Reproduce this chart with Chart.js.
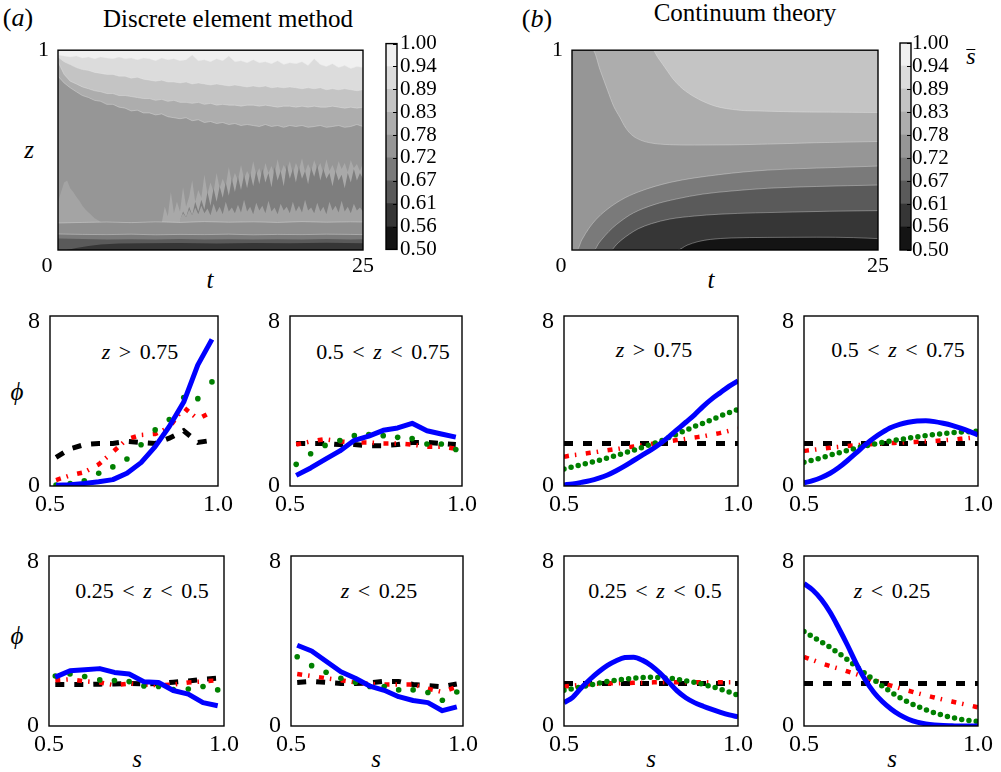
<!DOCTYPE html>
<html lang="en">
<head>
<meta charset="UTF-8" />
<title>Size segregation: DEM vs continuum theory</title>
<style>
  body { margin: 0; background: #fff; }
  #fig { position: relative; width: 1001px; height: 772px; overflow: hidden;
         font-family: "Liberation Serif", "Times New Roman", serif; color: #000; }
  #fig canvas { position: absolute; }
  .lbl { position: absolute; transform: translate(-50%, -50%); white-space: nowrap;
         line-height: 1; font-size: 25px; }
  .sm { font-size: 22px; word-spacing: 3px; }
  .bar { display: inline-block; border-top: 1.6px solid #000; line-height: 12px; height: 14px; }
</style>
</head>
<body>
<div id="fig">
  <div class="lbl" style="left:18px;top:18px;font-size:26px">(<i>a</i>)</div>
  <div class="lbl" style="left:228px;top:18px">Discrete element method</div>
  <div class="lbl" style="left:537px;top:19px;font-size:26px">(<i>b</i>)</div>
  <div class="lbl" style="left:745px;top:12px">Continuum theory</div>
  <div class="lbl" style="left:29px;top:149px"><i>z</i></div>
  <div class="lbl" style="left:210px;top:279px"><i>t</i></div>
  <div class="lbl" style="left:711px;top:279px"><i>t</i></div>
  <div class="lbl" style="left:971px;top:56px;font-size:24px"><i class="bar">s</i></div>

  <div class="lbl" style="left:17px;top:391px"><i>ϕ</i></div>
  <div class="lbl" style="left:17px;top:635px"><i>ϕ</i></div>
  <div class="lbl" style="left:137px;top:758px"><i>s</i></div>
  <div class="lbl" style="left:376px;top:758px"><i>s</i></div>
  <div class="lbl" style="left:651px;top:758px"><i>s</i></div>
  <div class="lbl" style="left:892px;top:758px"><i>s</i></div>

  <div class="lbl sm" style="left:140px;top:352px"><i>z</i> &gt; 0.75</div>
  <div class="lbl sm" style="left:383px;top:352px">0.5 &lt; <i>z</i> &lt; 0.75</div>
  <div class="lbl sm" style="left:654px;top:350px"><i>z</i> &gt; 0.75</div>
  <div class="lbl sm" style="left:898px;top:350px">0.5 &lt; <i>z</i> &lt; 0.75</div>
  <div class="lbl sm" style="left:142px;top:591px">0.25 &lt; <i>z</i> &lt; 0.5</div>
  <div class="lbl sm" style="left:379px;top:591px"><i>z</i> &lt; 0.25</div>
  <div class="lbl sm" style="left:655px;top:591px">0.25 &lt; <i>z</i> &lt; 0.5</div>
  <div class="lbl sm" style="left:892px;top:591px"><i>z</i> &lt; 0.25</div>
</div>

<script src="https://cdn.jsdelivr.net/npm/chart.js"></script>
<script>
// ---- colour levels of s-bar ----
const cbLevels = [0.5, 0.5556, 0.6111, 0.6667, 0.7222, 0.7778, 0.8333, 0.8889, 0.9444, 1.0];
const cbLabels = ['0.50', '0.56', '0.61', '0.67', '0.72', '0.78', '0.83', '0.89', '0.94', '1.00'];
const grays = ['#141414', '#363636', '#5a5a5a', '#7a7a7a', '#969696', '#adadad', '#c4c4c4', '#dcdcdc', '#f0f0f0'];

// ---- DEM contour boundaries, z(t) ----
const tGrid = [0,0.5,1,1.5,2,2.5,3,3.5,4,4.5,5,5.5,6,6.5,7,7.5,8,8.5,9,9.5,10,10.5,11,11.5,12,12.5,
  13,13.5,14,14.5,15,15.5,16,16.5,17,17.5,18,18.5,19,19.5,20,20.5,21,21.5,22,22.5,23,23.5,24,24.5,25];
const demA = [.976,.971,.966,.971,.961,.966,.957,.966,.961,.957,.966,.957,.961,.952,.961,.957,.947,.961,.952,.957,
  .947,.952,.976,.947,.952,.942,.957,.947,.971,.942,.947,.937,.952,.937,.942,.932,.947,.928,.937,.932,
  .942,.923,.957,.928,.918,.932,.913,.923,.908,.918,.913];
const demB = [.966,.942,.928,.913,.903,.899,.889,.884,.879,.879,.870,.870,.860,.865,.855,.850,.845,.850,.841,.841,
  .836,.841,.831,.836,.831,.826,.831,.826,.821,.826,.821,.816,.821,.816,.821,.812,.816,.812,.816,.812,
  .807,.812,.807,.812,.802,.807,.802,.807,.802,.797,.802];
const demC = [.942,.879,.845,.831,.816,.807,.797,.792,.783,.783,.773,.773,.768,.763,.758,.758,.749,.754,.744,.749,
  .739,.739,.734,.739,.729,.734,.725,.729,.725,.725,.720,.725,.725,.720,.725,.720,.715,.720,.720,.715,
  .720,.715,.720,.715,.715,.720,.715,.710,.715,.710,.715];
const demD = [.870,.836,.812,.792,.773,.763,.749,.744,.729,.729,.715,.710,.696,.700,.686,.686,.676,.681,.667,.662,
  .657,.662,.647,.652,.638,.643,.633,.638,.628,.633,.623,.628,.623,.618,.628,.618,.623,.614,.623,.618,
  .623,.614,.618,.623,.614,.618,.623,.614,.618,.628,.618];
const tPatch = [0,0.25,0.5,0.75,1,1.25,1.5,1.75,2,2.25,2.5,2.75,3,3.25,3.5,3.7];
const zPatch = [.242,.290,.338,.348,.309,.290,.266,.246,.222,.203,.188,.174,.159,.150,.140,.130];
const tLight = [8.5,8.75,9,9.25,9.5,9.75,10,10.25,10.5,10.75,11,11.25,11.5,11.75,12,12.25,12.5,12.75,13,13.25,
  13.5,13.75,14,14.25,14.5,14.75,15,15.25,15.5,15.75,16,16.25,16.5,16.75,17,17.25,17.5,17.75,18,18.25,
  18.5,18.75,19,19.25,19.5,19.75,20,20.25,20.5,20.75,21,21.25,21.5,21.75,22,22.25,22.5,22.75,23,23.25,
  23.5,23.75,24,24.25,24.5,24.75,25];
const zLight = [.135,.217,.169,.290,.184,.242,.193,.314,.217,.266,
  .348,.242,.300,.261,.377,.280,.338,.290,.386,.309,
  .357,.319,.415,.338,.386,.348,.425,.357,.396,.367,
  .444,.377,.411,.362,.435,.386,.420,.377,.454,.386,
  .425,.396,.444,.382,.435,.401,.459,.391,.430,.396,
  .449,.406,.435,.386,.454,.396,.425,.386,.444,.406,
  .435,.391,.449,.411,.430,.396,.435];
const tDark = [10,10.25,10.5,10.75,11,11.25,11.5,11.75,12,12.25,12.5,12.75,13,13.25,13.5,13.75,14,14.25,14.5,14.75,
  15,15.25,15.5,15.75,16,16.25,16.5,16.75,17,17.25,17.5,17.75,18,18.25,18.5,18.75,19,19.25,19.5,19.75,
  20,20.25,20.5,20.75,21,21.25,21.5,21.75,22,22.25,22.5,22.75,23,23.25,23.5,23.75,24,24.25,24.5,24.75,25];
const zDark = [.145,.193,.164,.217,.174,.242,.193,.251,.203,.290,
  .222,.309,.242,.319,.261,.338,.271,.357,.290,.367,
  .300,.377,.309,.386,.319,.396,.329,.406,.338,.386,
  .314,.415,.348,.396,.319,.425,.357,.406,.338,.415,
  .357,.396,.329,.411,.367,.425,.348,.406,.357,.386,
  .319,.396,.348,.377,.309,.386,.338,.406,.348,.386,
  .357];
const zLow = [.155,.184,.164,.203,.174,.213,.179,.222,.184,.208,
  .174,.232,.188,.217,.179,.242,.193,.213,.184,.227,
  .188,.251,.193,.217,.179,.237,.198,.222,.184,.246,
  .193,.213,.179,.232,.198,.217,.184,.242,.193,.222,
  .188,.251,.198,.213,.184,.237,.193,.217,.179,.242,
  .198,.222,.188,.246,.193,.217,.184,.232,.198,.213,
  .193];
const tBase = [0,2,4,6,8,10,12,14,16,18,20,22,24,25];
const demE1 = [.135,.138,.14,.137,.141,.138,.142,.139,.141,.138,.142,.139,.141,.14];
const demE2 = [.08,.078,.077,.079,.076,.078,.077,.079,.076,.078,.077,.079,.078,.077];
const demE3 = [.058,.055,.053,.054,.052,.055,.053,.054,.052,.054,.053,.055,.053,.054];
const tE4 = [0,0.7,1.5,2.5,3.5,5,7,10,13,16,19,22,25];
const demE4 = [0,0,.01,.02,.028,.032,.034,.035,.033,.035,.034,.036,.034];

// ---- continuum contour boundaries, z(t) ----
const tB2 = [0,6.6,7.0,7.4,7.8,8.2,8.8,9.3,10.3,11.7,13.6,15.7,18.4,21.1,25];
const zB2 = [1,1,0.965,0.93,0.895,0.86,0.82,0.794,0.756,0.72,0.70,0.695,0.691,0.69,0.688];
const tB1 = [0,1.7,2.3,2.9,3.4,3.9,4.4,4.9,5.6,6.5,8,10,13,16,20,25];
const zB1 = [1,1,0.9,0.8,0.72,0.665,0.61,0.575,0.55,0.535,0.527,0.525,0.526,0.53,0.537,0.543];
const tB3 = [0,0.4,0.8,1.4,2,2.7,4,5.4,8,12,16,20,25];
const zB3 = [0,0,0.05,0.11,0.155,0.195,0.25,0.29,0.338,0.377,0.4,0.41,0.42];
const tB4 = [0,1.8,2.2,2.7,3.3,4,5,6.7,8.5,10.7,13,16,20,25];
const zB4 = [0,0,0.035,0.072,0.11,0.145,0.185,0.227,0.255,0.28,0.295,0.309,0.318,0.325];
const tB5 = [0,3.2,3.6,4,4.7,5.4,6.5,8,10,12,15,18,21,25];
const zB5 = [0,0,0.025,0.048,0.08,0.106,0.132,0.155,0.17,0.179,0.186,0.19,0.194,0.197];
const tB6 = [0,8.6,9.4,10.3,11.3,13,16,20,23,25];
const zB6 = [0,0,0.024,0.042,0.053,0.06,0.063,0.064,0.062,0.057];

// ---- phi(s) profiles: [blue, green, red, black] ----
const sDem = [0.518,0.560,0.602,0.645,0.687,0.729,0.771,0.813,0.855,0.898,0.940,0.982];
const dem1 = [
  [0.03,0.06,0.12,0.2,0.3,0.6,1.1,1.85,2.8,3.95,5.7,6.9],
  [0.05,0.12,0.25,0.6,0.9,1.27,1.94,2.64,3.13,4.16,4.11,4.9],
  [0.28,0.5,0.65,1.02,1.6,2.2,2.4,2.45,2.76,3.7,3.15,3.5],
  [1.35,1.75,1.95,2.0,2.0,2.1,2.05,2.0,2.25,2.6,2.05,2.15]];
const dem2 = [
  [0.5,0.85,1.25,1.65,2.15,2.35,2.62,2.73,2.95,2.6,2.45,2.3],
  [1.02,1.52,1.91,2.14,2.37,2.42,2.37,2.29,2.23,1.98,1.98,1.72],
  [1.95,2.1,2.2,2.1,2.05,2.05,2.0,2.0,1.95,1.85,1.85,1.75],
  [2.0,2.0,2.0,1.95,1.95,1.9,1.9,1.95,2.05,2.05,2.0,1.95]];
const dem3 = [
  [2.3,2.6,2.65,2.7,2.52,2.45,2.08,2.05,1.67,1.5,1.1,0.95],
  [2.35,2.45,2.33,2.17,2.14,2.09,1.88,1.86,1.72,1.74,1.86,1.7],
  [2.15,2.2,2.1,2.05,1.92,2.0,1.95,1.92,1.95,2.05,2.1,2.15],
  [1.95,1.95,1.95,1.97,1.98,2.0,1.98,2.0,2.06,2.12,2.2,2.25]];
const dem4 = [
  [3.8,3.53,3.05,2.55,2.25,1.88,1.68,1.38,1.2,1.1,0.72,0.9],
  [3.26,2.84,2.53,2.25,2.06,1.86,1.86,1.7,1.7,1.58,1.21,1.6],
  [2.45,2.35,2.25,2.15,2.05,1.98,1.95,1.95,1.95,1.75,1.6,1.85],
  [2.05,2.1,2.05,2.0,2.0,2.03,2.1,2.1,1.95,1.9,1.85,1.98]];

const sCont = [0.5,0.525,0.55,0.575,0.6,0.625,0.65,0.675,0.7,0.725,0.75,0.775,0.8,0.825,0.85,0.875,0.9,0.925,0.95,0.975,1.0];
const uniform = [2,2,2,2,2,2,2,2,2,2,2,2,2,2,2,2,2,2,2,2,2];
const cont1 = [
  [0.05,0.1,0.17,0.25,0.37,0.52,0.72,0.95,1.2,1.45,1.7,1.98,2.3,2.65,3.0,3.35,3.75,4.1,4.4,4.7,4.95],
  [0.8,0.9,1.0,1.1,1.2,1.32,1.44,1.56,1.68,1.82,1.96,2.1,2.27,2.45,2.62,2.8,2.95,3.12,3.3,3.45,3.6],
  [1.38,1.45,1.5,1.56,1.62,1.68,1.74,1.8,1.86,1.92,1.98,2.04,2.1,2.16,2.22,2.28,2.34,2.42,2.5,2.6,2.7],
  uniform];
const cont2 = [
  [0.15,0.25,0.4,0.6,0.87,1.2,1.56,1.92,2.25,2.52,2.75,2.9,3.0,3.06,3.07,3.03,2.95,2.85,2.72,2.57,2.4],
  [1.12,1.22,1.33,1.45,1.56,1.67,1.78,1.88,1.97,2.05,2.12,2.19,2.25,2.31,2.37,2.42,2.47,2.51,2.54,2.56,2.58],
  [1.65,1.7,1.75,1.8,1.84,1.88,1.92,1.95,1.98,2.0,2.02,2.04,2.06,2.08,2.1,2.12,2.15,2.18,2.22,2.26,2.3],
  uniform];
const cont3 = [
  [1.1,1.35,1.8,2.2,2.55,2.85,3.07,3.22,3.24,3.1,2.85,2.5,2.08,1.65,1.33,1.1,0.93,0.78,0.64,0.52,0.43],
  [1.68,1.76,1.84,1.93,2.02,2.1,2.16,2.21,2.25,2.28,2.29,2.28,2.25,2.2,2.13,2.05,1.96,1.85,1.73,1.6,1.45],
  [1.85,1.9,1.94,1.97,1.99,2.0,2.01,2.02,2.03,2.04,2.05,2.06,2.06,2.06,2.06,2.06,2.06,2.06,2.06,2.06,2.06],
  uniform];
const cont4 = [
  [6.7,6.4,5.95,5.35,4.6,3.8,2.95,2.2,1.6,1.15,0.8,0.52,0.32,0.18,0.1,0.05,0.02,0.01,0,0,0],
  [4.45,4.2,3.95,3.7,3.42,3.12,2.8,2.48,2.18,1.88,1.6,1.34,1.12,0.93,0.76,0.62,0.5,0.4,0.32,0.26,0.21],
  [3.25,3.1,2.95,2.82,2.7,2.57,2.44,2.3,2.16,2.03,1.9,1.78,1.66,1.55,1.44,1.34,1.24,1.15,1.06,0.97,0.88],
  uniform];

const sTicks = [0.5, 1.0], sTickLabels = ['0.5', '1.0'];
// the top label sits a little below its tick in the figure, so it gets an empty first line
const phiTicks = [0, 8], phiTickLabels = ['0', ['', '8']];
// the shared corner "0" sits left of the axis corner
const tTicks = [0, 25], tTickLabels = ['0\u2002\u2002', '25'];
const zTicks = [1], zTickLabels = ['1'];

// ---------------------------------------------------------------
Chart.defaults.font.family = "'Liberation Serif', 'Times New Roman', serif";
Chart.defaults.color = '#000';

const frame = {
  id: 'frame',
  afterDatasetsDraw(chart) {
    const a = chart.chartArea, c = chart.ctx;
    c.save();
    c.strokeStyle = '#000';
    c.lineWidth = 1.4;
    c.strokeRect(a.left, a.top, a.right - a.left, a.bottom - a.top);
    c.restore();
  }
};

const innerTicks = {
  id: 'innerTicks',
  afterDatasetsDraw(chart) {
    const y = chart.scales.y, a = chart.chartArea, c = chart.ctx;
    c.save();
    c.strokeStyle = '#000';
    c.lineWidth = 1;
    y.ticks.forEach(t => {
      const py = Math.round(y.getPixelForValue(t.value)) + 0.5;
      c.beginPath(); c.moveTo(a.right - 4, py); c.lineTo(a.right, py); c.stroke();
    });
    c.restore();
  }
};

function addCanvas(area, pad) {
  const cv = document.createElement('canvas');
  const w = area[2] - area[0] + pad.l + pad.r, h = area[3] - area[1] + pad.t + pad.b;
  cv.width = w; cv.height = h;
  cv.style.left = (area[0] - pad.l) + 'px';
  cv.style.top = (area[1] - pad.t) + 'px';
  cv.style.width = w + 'px';
  cv.style.height = h + 'px';
  document.getElementById('fig').appendChild(cv);
  return cv;
}

function axis(min, max, vals, labels, size, font, padding, extra) {
  return Object.assign({
    type: 'linear', min, max,
    grid: { display: false, drawTicks: false },
    border: { display: false },
    afterBuildTicks: s => { s.ticks = vals.map(v => ({ value: v })); },
    ticks: { autoSkip: false, maxRotation: 0, font, padding,
             callback: (v, i) => labels[i] },
    afterFit: s => { if (s.isHorizontal()) s.height = size; else s.width = size; }
  }, extra || {});
}

const baseOpts = { responsive: false, animation: false, devicePixelRatio: 1, events: [] };

// ---- contour map: filled bands painted from the top level downwards ----
function contour(area, layers, smooth, showZTick) {
  const pad = { l: 40, t: 15, r: 10, b: 32 };
  const cv = addCanvas(area, pad);
  // layers are given bottom-first; Chart.js paints dataset 0 last
  const datasets = layers.slice().reverse().map(L => ({
    data: L.t.map((x, i) => ({ x, y: L.z[i] })),
    fill: 'start',
    backgroundColor: L.color,
    borderColor: L.edge ? 'rgba(235,235,235,0.45)' : 'rgba(0,0,0,0)',
    borderWidth: L.edge ? 0.8 : 0,
    pointRadius: 0,
    cubicInterpolationMode: smooth ? 'monotone' : 'default',
    tension: 0
  }));
  new Chart(cv, {
    type: 'line',
    data: { datasets },
    options: Object.assign({}, baseOpts, {
      layout: { padding: { left: 0, top: pad.t, right: pad.r, bottom: 0 } },
      plugins: { legend: { display: false }, tooltip: { enabled: false } },
      scales: {
        x: axis(0, 25, tTicks, tTickLabels, pad.b, { size: 22 }, 3),
        y: axis(0, 1, showZTick ? zTicks : [], zTickLabels, pad.l, { size: 22 }, 9)
      }
    }),
    plugins: [frame]
  });
}

function colorbar(area, tickPad) {
  const pad = { l: 2, t: 15, r: 55, b: 15 };
  const cv = addCanvas(area, pad);
  const datasets = grays.map((g, i) => ({
    data: [[cbLevels[i], cbLevels[i + 1]]],
    backgroundColor: g, borderWidth: 0, grouped: false,
    barPercentage: 1, categoryPercentage: 1
  }));
  new Chart(cv, {
    type: 'bar',
    data: { labels: ['s'], datasets },
    options: Object.assign({}, baseOpts, {
      layout: { padding: { left: pad.l, top: pad.t, right: 0, bottom: pad.b } },
      plugins: { legend: { display: false }, tooltip: { enabled: false } },
      scales: {
        x: { display: false },
        y: axis(0.5, 1, cbLevels, cbLabels, pad.r, { size: 21 }, tickPad, { position: 'right' })
      }
    }),
    plugins: [frame, innerTicks]
  });
}

// ---- phi(s) panel ----
function panel(area, xs, ys, dem) {
  const pad = { l: 45, t: 20, r: 25, b: 32 };
  const cv = addCanvas(area, pad);
  const pts = arr => xs.map((x, i) => ({ x, y: arr[i] }));
  const curve = dem ? 'default' : 'monotone';
  const datasets = [
    { data: pts(ys[0]), borderColor: '#0000ff', borderWidth: 5, pointRadius: 0,
      cubicInterpolationMode: curve, borderJoinStyle: 'round' },
    dem
      ? { data: pts(ys[1]), showLine: false, pointRadius: 2.8, pointBackgroundColor: '#008000',
          pointBorderWidth: 0 }
      : { data: pts(ys[1]), borderColor: '#008000', borderWidth: 5.5, borderDash: [0, 7.3],
          borderCapStyle: 'round', pointRadius: 0, cubicInterpolationMode: curve },
    { data: pts(ys[2]), borderColor: '#ff0000', borderWidth: 4.5, borderDash: [5, 6, 1.5, 9.5],
      pointRadius: 0, cubicInterpolationMode: curve },
    { data: pts(ys[3]), borderColor: '#000000', borderWidth: 5, borderDash: [9, 10], pointRadius: 0 }
  ];
  new Chart(cv, {
    type: 'line',
    data: { datasets },
    options: Object.assign({}, baseOpts, {
      layout: { padding: { left: 0, top: pad.t, right: pad.r, bottom: 0 } },
      plugins: { legend: { display: false }, tooltip: { enabled: false } },
      scales: {
        x: axis(0.5, 1, sTicks, sTickLabels, pad.b, { size: 24 }, 4),
        y: axis(0, 8, phiTicks, phiTickLabels, pad.l, { size: 24, lineHeight: 0.5 }, 10)
      }
    }),
    plugins: [frame]
  });
}

// ---------------------------------------------------------------
contour([58, 43, 367, 250], [
  { t: [0, 25], z: [1, 1], color: grays[8] },
  { t: tGrid, z: demA, color: grays[7], edge: true },
  { t: tGrid, z: demB, color: grays[6], edge: true },
  { t: tGrid, z: demC, color: grays[5], edge: true },
  { t: tGrid, z: demD, color: grays[4], edge: true },
  { t: tPatch, z: zPatch, color: '#a4a4a4' },
  { t: tLight, z: zLight, color: '#a9a9a9' },
  { t: tDark, z: zDark, color: '#7e7e7e' },
  { t: tDark, z: zLow, color: '#a2a2a2' },
  { t: tBase, z: demE1, color: '#8f8f8f', edge: true },
  { t: tBase, z: demE2, color: grays[3], edge: true },
  { t: tBase, z: demE3, color: grays[2] },
  { t: tE4, z: demE4, color: grays[1] }
], false, true);
colorbar([386, 43, 397, 250], 3);

contour([572, 43, 882, 250], [
  { t: [0, 25], z: [1, 1], color: grays[6] },
  { t: tB2, z: zB2, color: grays[5], edge: true },
  { t: tB1, z: zB1, color: grays[4], edge: true },
  { t: tB3, z: zB3, color: grays[3], edge: true },
  { t: tB4, z: zB4, color: grays[2], edge: true },
  { t: tB5, z: zB5, color: grays[1], edge: true },
  { t: tB6, z: zB6, color: grays[0], edge: true }
], true, true);
colorbar([900, 43, 911, 250], 1);

panel([50, 314, 218, 486], sDem, dem1, true);
panel([290, 314, 462, 486], sDem, dem2, true);
panel([564, 314, 738, 486], sCont, cont1, false);
panel([804, 314, 978, 486], sCont, cont2, false);
panel([49, 554, 224, 726], sDem, dem3, true);
panel([291, 554, 463, 726], sDem, dem4, true);
panel([564, 554, 738, 726], sCont, cont3, false);
panel([804, 554, 978, 726], sCont, cont4, false);
</script>
</body>
</html>
